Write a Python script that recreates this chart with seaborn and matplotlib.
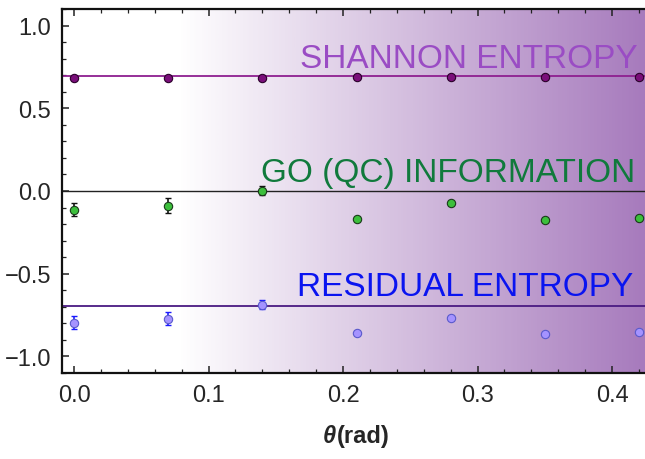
import numpy as np
import seaborn as sns
import matplotlib.pyplot as plt
from matplotlib.colors import LinearSegmentedColormap
from matplotlib.ticker import MultipleLocator

# DATA
theta = [0.0, 0.07, 0.14, 0.21, 0.28, 0.35, 0.42]
shannon = [0.680, 0.683, 0.685, 0.686, 0.686, 0.686, 0.686]
shannon_err = [0.005, 0.005, 0.005, 0.005, 0.005, 0.005, 0.005]
go_info = [-0.113, -0.088, 0.003, -0.172, -0.072, -0.174, -0.163]
go_err = [0.04, 0.045, 0.03, 0.012, 0.012, 0.012, 0.012]
residual = [-0.795, -0.771, -0.686, -0.86, -0.765, -0.867, -0.855]
residual_err = [0.037, 0.04, 0.025, 0.012, 0.012, 0.012, 0.012]
ln2 = np.log(2)

# STYLE
sns.set_style("ticks")
plt.rcParams['font.family'] = ['Liberation Sans', 'DejaVu Sans']

fig = plt.figure(figsize=(6.45, 4.6), dpi=100)
ax = fig.add_axes([62 / 645, 86 / 460, 583 / 645, 364 / 460])

xmin, xmax = -0.009, 0.4245
ymin, ymax = -1.1, 1.1

# background gradient: white -> purple towards larger theta
cmap = LinearSegmentedColormap.from_list(
    "bg", [(0.0, "#ffffff"), (0.2, "#ffffff"), (1.0, "#a77bbd")])
grad = np.linspace(0, 1, 400).reshape(1, -1)
ax.imshow(grad, extent=[xmin, xmax, ymin, ymax], aspect="auto",
          cmap=cmap, origin="lower", zorder=0)

# reference lines
ax.axhline(ln2, color="#8e1f90", lw=1.3, zorder=1)
ax.axhline(0.0, color="#222222", lw=1.0, zorder=1)
ax.axhline(-ln2, color="#4a1a82", lw=1.3, zorder=1)

# series
series = [
    (shannon, shannon_err, "#7a0f7a", "#2a002a", "#2a002a"),
    (go_info, go_err, "#3cbf3c", "#1a3a1a", "#111111"),
    (residual, residual_err, "#a593ff", "#5a5acc", "#1a1aff"),
]
for vals, errs, fc, ec, ecol in series:
    ax.errorbar(theta, vals, yerr=errs, fmt="none", ecolor=ecol,
                elinewidth=1.2, capsize=2, capthick=1.0, zorder=2)
    sns.scatterplot(x=theta, y=vals, ax=ax, s=36, color=fc,
                    edgecolor=ec, linewidth=0.8, zorder=3, legend=False)

# labels on the chart
ax.text(0.419, 0.75, "SHANNON ENTROPY", color="#9a4cc4", fontsize=24,
        ha="right", va="baseline")
ax.text(0.417, 0.06, "GO (QC) INFORMATION", color="#107a3c", fontsize=24,
        ha="right", va="baseline")
ax.text(0.4155, -0.627, "RESIDUAL ENTROPY", color="#0a14f0", fontsize=24,
        ha="right", va="baseline")

ax.set_xlim(xmin, xmax)
ax.set_ylim(ymin, ymax)
ax.xaxis.set_major_locator(MultipleLocator(0.1))
ax.xaxis.set_minor_locator(MultipleLocator(0.02))
ax.yaxis.set_major_locator(MultipleLocator(0.5))
ax.yaxis.set_minor_locator(MultipleLocator(0.1))
ax.xaxis.set_major_formatter(plt.FuncFormatter(lambda v, p: f"{v:.1f}"))
ax.yaxis.set_major_formatter(plt.FuncFormatter(
    lambda v, p: f"{v:.1f}".replace("-", "\u2212") if abs(v) > 1e-9 else "0.0"))
ax.tick_params(which="both", direction="in", top=True, right=False,
               labelsize=17, color="#222222", pad=8)
ax.tick_params(which="major", length=5, width=1.1)
ax.tick_params(which="minor", length=3, width=0.9)
for side in ["left", "bottom", "top"]:
    ax.spines[side].set_linewidth(1.6)
    ax.spines[side].set_color("#111111")
ax.spines["right"].set_visible(False)

# axis title: bold italic theta followed by (rad)
fig.text(336 / 645, 23 / 460, "θ", fontsize=17, fontweight="bold",
         style="italic", ha="right", va="center")
fig.text(337 / 645, 23 / 460, "(rad)", fontsize=17, fontweight="semibold",
         ha="left", va="center")

fig.savefig("out.png", dpi=100)
